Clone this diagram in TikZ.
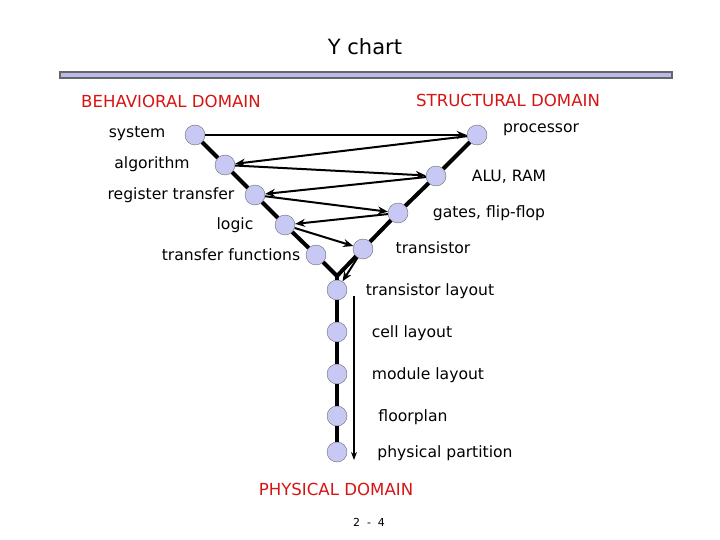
\documentclass[tikz,border=0pt]{standalone}
\usepackage{fontspec}
\setmainfont{DejaVu Sans}
\usepackage{tikz}
\usetikzlibrary{arrows.meta}
\definecolor{dotfill}{RGB}{200,200,245}
\definecolor{domainred}{RGB}{215,20,20}
\definecolor{rulefill}{RGB}{185,185,235}

\begin{document}
\begin{tikzpicture}[x=1pt,y=-1pt,
  level/.style={circle,draw=gray!85!black,fill=dotfill,minimum size=20pt,inner sep=0pt},
  axis/.style={line width=4pt,line join=miter},
  flow/.style={line width=2pt,-{Stealth[length=10pt,width=8pt]}},
  lbl/.style={font=\fontsize{15.6}{18}\selectfont},
  domtxt/.style={font=\fontsize{16.6}{19}\selectfont,text=domainred}]
  \useasboundingbox (0,0) rectangle (720,540);

  \node[font=\fontsize{21}{24}\selectfont] (title) at (365,47) {Y chart};
  \draw[draw=gray!80!black,fill=rulefill,line width=1.2pt] (60,72) rectangle (672,78);

  \node[domtxt] (behav) at (171,101) {BEHAVIORAL DOMAIN};
  \node[domtxt] (struct) at (508,100) {STRUCTURAL DOMAIN};
  \node[domtxt] (phys) at (336,489) {PHYSICAL DOMAIN};

  % behavioral side
  \node[level] (system) at (195,135) {};
  \node[level] (algo) at (225,165) {};
  \node[level] (rt) at (255,195) {};
  \node[level] (logic) at (285,225) {};
  \node[level] (tf) at (316,255) {};
  % structural side
  \node[level] (proc) at (477,135) {};
  \node[level] (alu) at (436,176) {};
  \node[level] (gates) at (398,213) {};
  \node[level] (trans) at (363,249) {};
  % physical side
  \coordinate (fork) at (337,276);
  \node[level] (tl) at (337,290) {};
  \node[level] (cl) at (337,332) {};
  \node[level] (ml) at (337,374) {};
  \node[level] (fp) at (337,416) {};
  \node[level] (pp) at (337,452) {};

  \node[lbl] (systemtxt) at (137,134) {system};
  \node[lbl] (algotxt) at (152,164) {algorithm};
  \node[lbl] (rttxt) at (171,195) {register transfer};
  \node[lbl] (logictxt) at (235,225) {logic};
  \node[lbl] (tftxt) at (231,255) {transfer functions};
  \node[lbl] (proctxt) at (541,130) {processor};
  \node[lbl] (alutxt) at (509,177) {ALU, RAM};
  \node[lbl] (gatestxt) at (489,213) {gates, flip-flop};
  \node[lbl] (transtxt) at (433,248) {transistor};
  \node[lbl] (tltxt) at (430,291) {transistor layout};
  \node[lbl] (cltxt) at (412,333) {cell layout};
  \node[lbl] (mltxt) at (428,375) {module layout};
  \node[lbl] (fptxt) at (413,417) {floorplan};
  \node[lbl] (pptxt) at (445,453) {physical partition};

  \node[font=\fontsize{11}{13}\selectfont] (page) at (369,522) {2~~-~~4};

  \draw[axis] (system) -- (algo) -- (rt) -- (logic) -- (tf) -- (fork)
    -- (trans) -- (gates) -- (alu) -- (proc);
  \draw[axis] (fork) -- (tl) -- (cl) -- (ml) -- (fp) -- (pp);

  \draw[flow] (system) -- (proc);
  \draw[flow] (proc) -- (algo);
  \draw[flow] (algo) -- (alu);
  \draw[flow] (alu) -- (rt);
  \draw[flow] (rt) -- (gates);
  \draw[flow] (gates) -- (logic);
  \draw[flow] (logic) -- (trans);
  \draw[flow] (trans) -- (tl);

  \coordinate (down1) at (354,296);
  \coordinate (down2) at (354,460);
  \draw[flow,line width=1.2pt,-{Stealth[length=8pt,width=6pt]}] (down1) -- (down2);
\end{tikzpicture}
\end{document}
